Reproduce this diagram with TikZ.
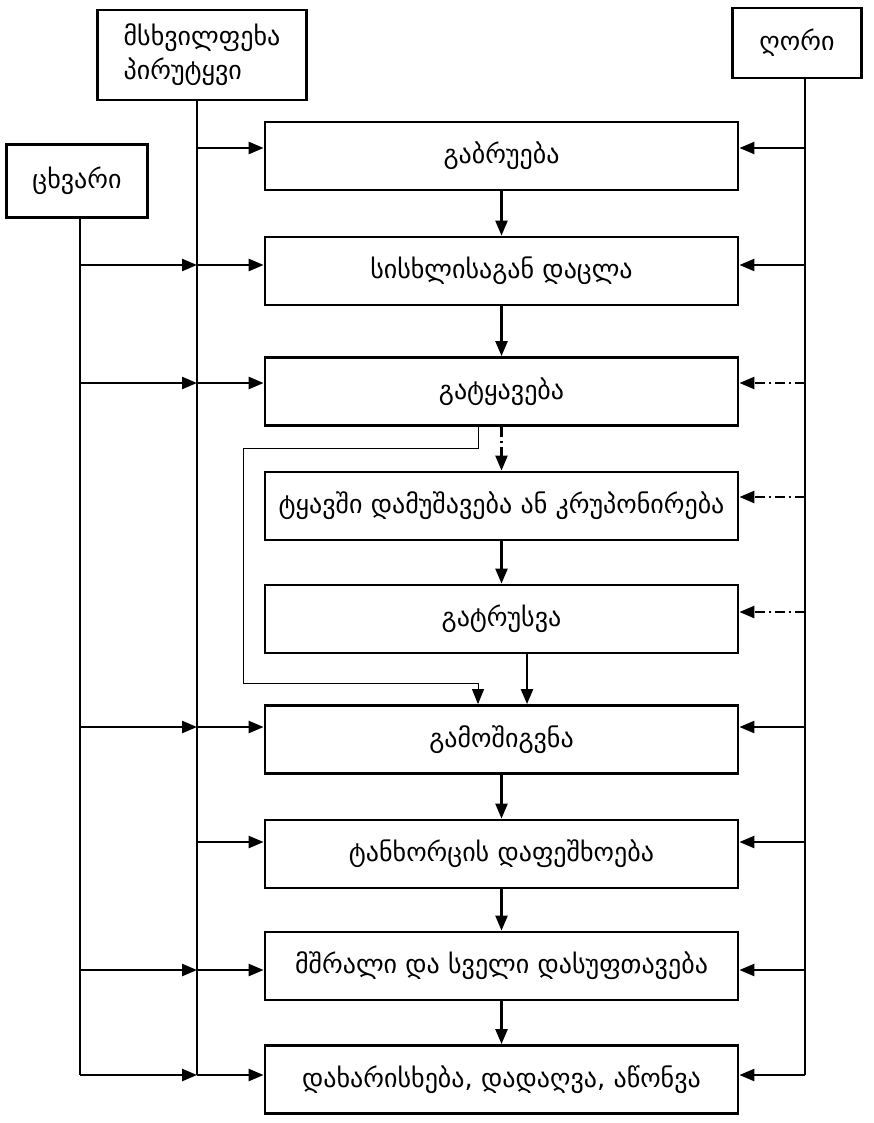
\documentclass[tikz,border=0pt]{standalone}
\usepackage{fontspec}
\setmainfont{DejaVu Sans}
\usetikzlibrary{arrows.meta}
\begin{document}
\begin{tikzpicture}[x=1pt,y=-1pt,
  box/.style={draw,line width=2.8pt,minimum width=473pt,minimum height=68pt,inner sep=0pt,font=\fontsize{26}{30}\selectfont},
  src/.style={draw,line width=2.8pt,inner sep=0pt,font=\fontsize{26}{34}\selectfont},
  ln/.style={line width=2.4pt},
  arr/.style={line width=2.4pt,-{Triangle[length=15pt,width=12pt]}},
  dd/.style={arr,dash pattern=on 10pt off 4pt on 2pt off 4pt},
  thinarr/.style={line width=0.9pt,-{Triangle[length=15pt,width=12pt]}}]
\useasboundingbox (0,0) rectangle (874,1123);
% sources
\node[src,minimum width=209pt,minimum height=90pt,align=left] (cattle) at (202,55) {მსხვილფეხა\\პირუტყვი};
\node[src,minimum width=129pt,minimum height=70pt] (pig) at (797,43) {ღორი};
\node[src,minimum width=141pt,minimum height=73pt] (sheep) at (77,181) {ცხვარი};
% process boxes
\node[box] (b1) at (501.5,156) {გაბრუება};
\node[box] (b2) at (501.5,271) {სისხლისაგან დაცლა};
\node[box] (b3) at (501.5,391.5) {გატყავება};
\node[box] (b4) at (501.5,506) {ტყავში დამუშავება ან კრუპონირება};
\node[box] (b5) at (501.5,619) {გატრუსვა};
\node[box] (b6) at (501.5,739.5) {გამოშიგვნა};
\node[box] (b7) at (501.5,854) {ტანხორცის დაფეშხოება};
\node[box] (b8) at (501.5,966) {მშრალი და სველი დასუფთავება};
\node[box] (b9) at (501.5,1079.5) {დახარისხება, დადაღვა, აწონვა};
% row coordinates
\foreach \i/\y in {1/148,2/265,3/383,4/497,5/612,6/727,7/842,8/970,9/1075}{
  \coordinate (s\i) at (80,\y);
  \coordinate (m\i) at (197,\y);
  \coordinate (r\i) at (805,\y);
}
% trunk lines
\draw[ln] (sheep.south -| s9) -- (s9);
\draw[ln] (cattle.south -| m9) -- (m9);
\draw[ln] (pig.south -| r9) -- (r9);
% sheep inputs
\foreach \i in {2,3,6,8,9}{ \draw[arr] (s\i) -- (m\i); }
% cattle inputs
\draw[arr] (m1) -- (m1 -| b1.west);
\draw[arr] (m2) -- (m2 -| b2.west);
\draw[arr] (m3) -- (m3 -| b3.west);
\draw[arr] (m6) -- (m6 -| b6.west);
\draw[arr] (m7) -- (m7 -| b7.west);
\draw[arr] (m8) -- (m8 -| b8.west);
\draw[arr] (m9) -- (m9 -| b9.west);
% pig inputs
\draw[arr] (r1) -- (r1 -| b1.east);
\draw[arr] (r2) -- (r2 -| b2.east);
\draw[dd] (r3) -- (r3 -| b3.east);
\draw[dd] (r4) -- (r4 -| b4.east);
\draw[dd] (r5) -- (r5 -| b5.east);
\draw[arr] (r6) -- (r6 -| b6.east);
\draw[arr] (r7) -- (r7 -| b7.east);
\draw[arr] (r8) -- (r8 -| b8.east);
\draw[arr] (r9) -- (r9 -| b9.east);
% process flow
\draw[arr] (b1) -- (b2);
\draw[arr] (b2) -- (b3);
\draw[dd] (b3) -- (b4);
\draw[arr] (b4) -- (b5);
\coordinate (k1) at (243,448);
\coordinate (k2) at (478,683);
\coordinate (k3) at (527,0);
\draw[thinarr] (b3.south -| k2) |- (k1) |- (k2) -- (b6.north -| k2);
\draw[arr] (b5.south -| k3) -- (b6.north -| k3);
\draw[arr] (b6) -- (b7);
\draw[arr] (b7) -- (b8);
\draw[arr] (b8) -- (b9);
\end{tikzpicture}
\end{document}
